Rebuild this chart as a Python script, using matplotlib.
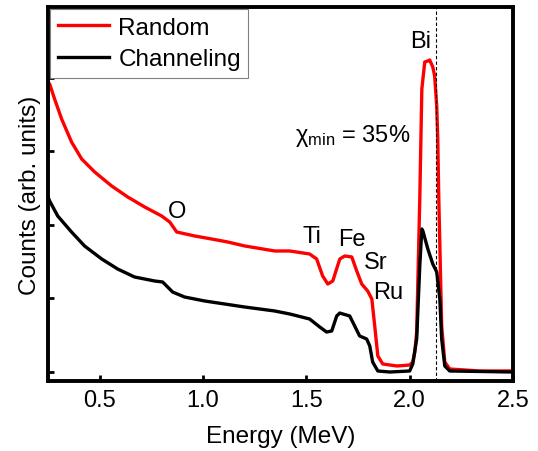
import matplotlib.pyplot as plt

plt.rcParams['font.family'] = ['Liberation Sans', 'DejaVu Sans']

# Random spectrum (energy in MeV, counts in arb. units)
random_energy = [0.25, 0.258, 0.282, 0.316, 0.364, 0.413, 0.476, 0.558, 0.636, 0.718,
                 0.800, 0.839, 0.873, 0.960, 1.042, 1.120, 1.202, 1.347, 1.420, 1.516,
                 1.550, 1.579, 1.604, 1.628, 1.662, 1.686, 1.720, 1.744, 1.768, 1.797,
                 1.817, 1.831, 1.846, 1.870, 1.938, 2.000, 2.015, 2.025, 2.034, 2.049,
                 2.059, 2.073, 2.088, 2.097, 2.112, 2.121, 2.131, 2.136, 2.141, 2.155,
                 2.170, 2.194, 2.339, 2.499]
random_counts = [3944, 3917, 3713, 3441, 3128, 2897, 2720, 2530, 2380, 2244,
                 2122, 2040, 1904, 1850, 1809, 1768, 1714, 1646, 1646, 1605,
                 1537, 1306, 1197, 1238, 1537, 1578, 1564, 1374, 1197, 1102,
                 993, 626, 218, 109, 82, 95, 136, 272, 544, 2353,
                 3849, 4216, 4230, 4243, 4148, 4026, 3618, 3169, 2353, 626,
                 136, 41, 14, 14]

# Channeling spectrum
chan_energy = [0.25, 0.258, 0.297, 0.364, 0.427, 0.510, 0.587, 0.669, 0.766, 0.805,
               0.853, 0.911, 1.008, 1.105, 1.202, 1.347, 1.420, 1.516, 1.565, 1.598,
               1.623, 1.647, 1.662, 1.710, 1.734, 1.758, 1.792, 1.807, 1.821, 1.846,
               1.904, 2.000, 2.015, 2.034, 2.049, 2.059, 2.064, 2.088, 2.112, 2.131,
               2.146, 2.155, 2.170, 2.194, 2.499]
chan_counts = [2380, 2326, 2122, 1904, 1714, 1537, 1401, 1292, 1238, 1224,
               1088, 1020, 966, 925, 884, 830, 789, 721, 612, 544,
               558, 762, 802, 762, 626, 490, 449, 354, 136, 14,
               0, 14, 109, 449, 1442, 1945, 1918, 1673, 1469, 1360,
               993, 449, 82, 14, 0]

surface_energy = 2.127

fig = plt.figure(figsize=(5.38, 4.52), dpi=100)
ax = fig.add_axes([0.0892, 0.1549, 0.8643, 0.8274])

ax.plot(random_energy, random_counts, color='red', lw=2.4, label='Random')
ax.plot(chan_energy, chan_counts, color='black', lw=2.4, label='Channeling')
ax.axvline(surface_energy, color='black', lw=0.8, ls=(0, (3, 2)))

ax.set_xlim(0.25, 2.5)
ax.set_ylim(-122, 4964)
ax.set_xticks([0.5, 1.0, 1.5, 2.0, 2.5])
ax.set_yticks([0, 1000, 2000, 3000, 4000])
ax.set_yticklabels([])
ax.tick_params(direction='in', length=4, width=2, labelsize=17, pad=6)
for s in ax.spines.values():
    s.set_linewidth(2.8)

ax.set_xlabel('Energy (MeV)', fontsize=17.5, labelpad=10)
ax.set_ylabel('Counts (arb. units)', fontsize=17.5, labelpad=-1)

fs = 17
ax.text(2.055, 4500, 'Bi', fontsize=fs, ha='center', va='center')
ax.text(1.724, 3223, r'$\mathregular{χ_{min}}$ = 35%', fontsize=fs, ha='center', va='center')
ax.text(0.873, 2190, 'O', fontsize=fs, ha='center', va='center')
ax.text(1.526, 1850, 'Ti', fontsize=fs, ha='center', va='center')
ax.text(1.72, 1810, 'Fe', fontsize=fs, ha='center', va='center')
ax.text(1.836, 1490, 'Sr', fontsize=fs, ha='center', va='center')
ax.text(1.894, 1090, 'Ru', fontsize=fs, ha='center', va='center')

leg = ax.legend(loc='upper left', fontsize=17.5, fancybox=False, framealpha=1,
                borderaxespad=0.1, handlelength=2.1, borderpad=0.3,
                labelspacing=0.4, handletextpad=0.4)
leg.get_frame().set_edgecolor('gray')
leg.get_frame().set_linewidth(0.8)

fig.savefig('out.png', dpi=100)
